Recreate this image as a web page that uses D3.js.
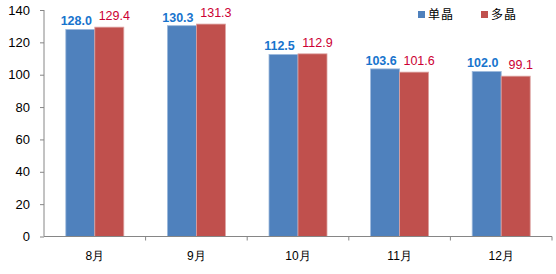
<!DOCTYPE html>
<html>
<head>
<meta charset="utf-8">
<script src="https://cdn.jsdelivr.net/npm/d3@7"></script>
<style>
  body { margin: 0; background: #fff; }
  svg { display: block; font-family: "Liberation Sans", Arial, "Noto Sans CJK SC", sans-serif; }
</style>
</head>
<body>
<div id="chart"></div>
<script>
var months = ["8月", "9月", "10月", "11月", "12月"];
var seriesNames = ["单晶", "多晶"];
var mono = [128.0, 130.3, 112.5, 103.6, 102.0];
var poly = [129.4, 131.3, 112.9, 101.6, 99.1];
var yTicks = [0, 20, 40, 60, 80, 100, 120, 140];

var W = 556, H = 274;
var plotLeft = 44, plotRight = 552, plotTop = 10, plotBottom = 236.5;

var svg = d3.select("#chart").append("svg")
    .attr("width", W)
    .attr("height", H);

var x = d3.scaleBand(months, [plotLeft, plotRight]).paddingInner(0).paddingOuter(0);
var y = d3.scaleLinear([0, 140], [plotBottom, plotTop]);

var barW = 29;
var series = [
    {name: seriesNames[0], values: mono, fill: "#4F81BD", stroke: "#9DB9DC", label: "#1874CD", weight: "bold", dx: -4, gap: 4},
    {name: seriesNames[1], values: poly, fill: "#C0504D", stroke: "#DDA2A0", label: "#CC0033", weight: "normal", dx: 5, gap: 7}
];

// bars
series.forEach(function(s, si) {
    var g = svg.append("g");
    g.selectAll("rect")
        .data(s.values)
        .join("rect")
        .attr("x", function(d, i) { return x(months[i]) + x.bandwidth()/2 - barW + si*barW; })
        .attr("y", function(d) { return y(d); })
        .attr("width", barW)
        .attr("height", function(d) { return y(0) - y(d); })
        .attr("fill", s.fill)
        .attr("stroke", s.stroke)
        .attr("stroke-width", 0.8);

    g.selectAll("text")
        .data(s.values)
        .join("text")
        .text(function(d) { return d.toFixed(1); })
        .attr("x", function(d, i) { return x(months[i]) + x.bandwidth()/2 - barW/2 + si*barW + s.dx; })
        .attr("y", function(d) { return y(d) - s.gap; })
        .attr("text-anchor", "middle")
        .attr("font-size", "12.5px")
        .attr("font-weight", s.weight)
        .attr("fill", s.label);
});

// y axis
var yAxis = svg.append("g")
    .attr("transform", "translate(" + plotLeft + ",0)")
    .call(d3.axisLeft(y).tickValues(yTicks).tickSize(4).tickPadding(10));
yAxis.select(".domain").attr("stroke", "#868686").attr("d", "M0," + plotTop + "V" + plotBottom);
yAxis.selectAll(".tick line").attr("stroke", "#868686");
yAxis.selectAll("text").attr("font-size", "13px").attr("fill", "#000")
    .attr("font-family", "'Liberation Sans', Arial, sans-serif");

// x axis
var xAxis = svg.append("g")
    .attr("transform", "translate(0," + plotBottom + ")")
    .call(d3.axisBottom(x).tickSize(0).tickPadding(15));
xAxis.select(".domain").attr("stroke", "#868686").attr("d", "M" + plotLeft + ",0H" + plotRight);
xAxis.selectAll("text").attr("font-size", "12px").attr("fill", "#000");
svg.append("g")
    .selectAll("line")
    .data(months)
    .join("line")
    .attr("x1", function(d) { return x(d) + x.bandwidth(); })
    .attr("x2", function(d) { return x(d) + x.bandwidth(); })
    .attr("y1", plotBottom)
    .attr("y2", plotBottom + 4)
    .attr("stroke", "#868686");

// legend
var legend = svg.append("g");
var legX = [418, 481];
series.forEach(function(s, i) {
    legend.append("rect")
        .attr("x", legX[i])
        .attr("y", 11)
        .attr("width", 7)
        .attr("height", 7)
        .attr("fill", s.fill);
    legend.append("text")
        .text(s.name)
        .attr("x", legX[i] + 10)
        .attr("y", 19)
        .attr("font-size", "12px")
        .attr("letter-spacing", "1px")
        .attr("font-family", "'Noto Sans CJK SC', sans-serif")
        .attr("fill", "#000");
});
</script>
</body>
</html>
